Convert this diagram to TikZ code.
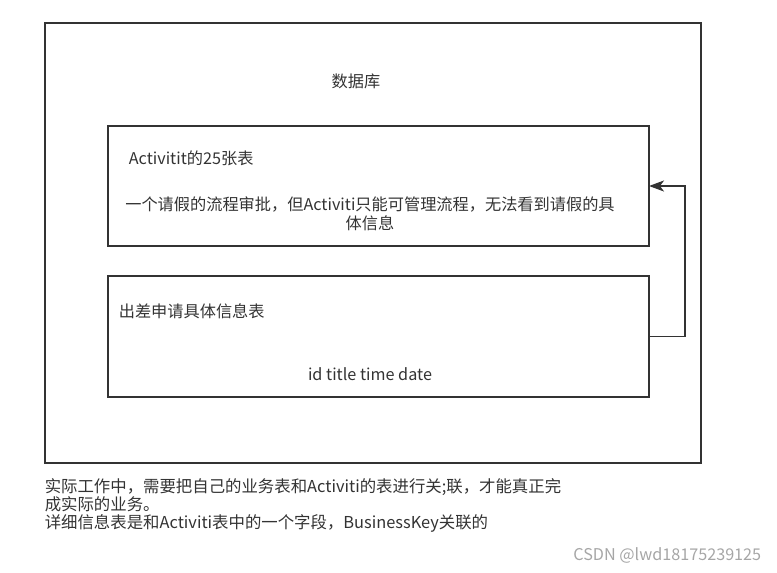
\documentclass[tikz,border=0pt]{standalone}
\usepackage{fontspec}
\setmainfont{Noto Sans CJK SC}
\usetikzlibrary{arrows.meta}

\definecolor{ink}{HTML}{333333}

\begin{document}
\begin{tikzpicture}[x=1pt,y=-1pt,->,>={Stealth[length=15pt,width=11pt,inset=4pt]},
      line width=1.6pt,draw=ink,text=ink,
      tbl/.style={draw,rectangle,inner sep=0pt,outer sep=0pt,-},
      txt/.style={inner sep=0pt,font=\fontsize{16.2}{19}\selectfont}]
    \useasboundingbox (0,0) rectangle (777,573);
    \node[tbl,minimum width=656pt,minimum height=440pt] (db1) at (373,243) {};
    \node[tbl,minimum width=541pt,minimum height=120pt] (act1) at (378.5,186) {};
    \node[tbl,minimum width=541pt,minimum height=121pt] (biz1) at (378.5,336.5) {};
    \node[txt] (dbl) at (356,81) {数据库};
    \node[txt,anchor=west] (actl) at (128,158) {Activitit的25张表};
    \node[txt,align=center] (actd) at (370,214)
      {一个请假的流程审批，但Activiti只能可管理流程，无法看到请假的具\\体信息};
    \node[txt,anchor=west] (bizl) at (118,311) {出差申请具体信息表};
    \node[txt] (bizf) at (370,374) {id title time date};
    \draw (biz1.east) -- ++(36,0) |- (act1.east);
    \node[txt,anchor=west,align=left,font=\fontsize{16.4}{18}\selectfont] (note1) at (44,505)
      {实际工作中，需要把自己的业务表和Activiti的表进行关;联，才能真正完\\
       成实际的业务。\\
       详细信息表是和Activiti表中的一个字段，BusinessKey关联的};
    \node[txt,anchor=east,text=gray!70] (mark1) at (762,555) {CSDN @lwd18175239125};
  \end{tikzpicture}
\end{document}
